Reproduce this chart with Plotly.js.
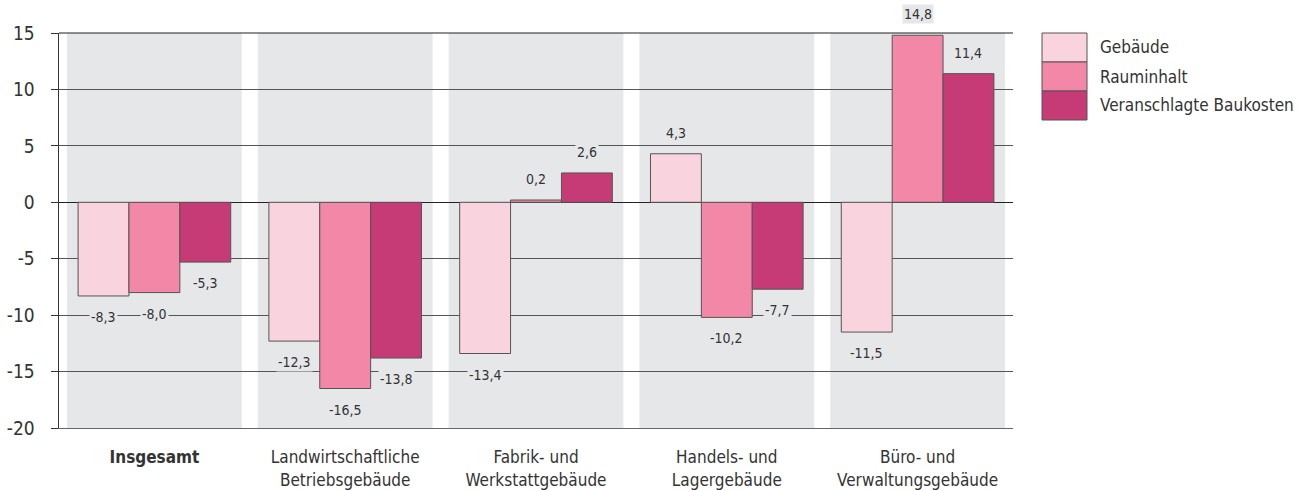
<!DOCTYPE html>
<html>
<head>
<meta charset="utf-8">
<script src="https://cdn.plot.ly/plotly-3.0.1.min.js"></script>
<style>
html,body{margin:0;padding:0;background:#fff;}
#chart{width:1307px;height:491px;}
</style>
</head>
<body>
<div id="chart"></div>
<script>
var categories = ["<b>Insgesamt</b>", "Landwirtschaftliche<br>Betriebsgebäude", "Fabrik- und<br>Werkstattgebäude", "Handels- und<br>Lagergebäude", "Büro- und<br>Verwaltungsgebäude"];
var seriesNames = ["Gebäude", "Rauminhalt", "Veranschlagte Baukosten"];
var gebaeude = [-8.3, -12.3, -13.4, 4.3, -11.5];
var rauminhalt = [-8.0, -16.5, 0.2, -10.2, 14.8];
var baukosten = [-5.3, -13.8, 2.6, -7.7, 11.4];
var yTicks = [-20, -15, -10, -5, 0, 5, 10, 15];

var colors = ["#f9d3de", "#f287a8", "#c63a76"];
var FONT = "'DejaVu Sans Condensed', 'Liberation Sans', sans-serif";
var BAND = "#e6e7e9";
var seriesValues = [gebaeude, rauminhalt, baukosten];
var xIdx = categories.map(function(c, i){ return i; });
var barW = 0.8 / 3;

var traces = seriesValues.map(function(vals, s){
  return {
    type: "bar",
    name: seriesNames[s],
    x: xIdx,
    y: vals,
    marker: {color: colors[s], line: {color: "#555", width: 1}},
    showlegend: false,
    hoverinfo: "y+name"
  };
});

function fmt(v){ return v.toFixed(1).replace(".", ","); }

var annotations = [];
seriesValues.forEach(function(vals, s){
  vals.forEach(function(v, i){
    annotations.push({
      x: i + (s - 1) * barW, y: v, xref: "x", yref: "y",
      text: fmt(v), showarrow: false,
      yanchor: "middle", yshift: v >= 0 ? 21 : -21,
      bgcolor: BAND, borderpad: 1,
      font: {family: FONT, size: 14, color: "#333"}
    });
  });
});

var shapes = [];
categories.forEach(function(c, i){
  shapes.push({type: "rect", xref: "x", yref: "paper", x0: i - 0.458, x1: i + 0.458, y0: 0, y1: 1,
    fillcolor: BAND, line: {width: 0}, layer: "below"});
});
var legX0 = 1042, legX1 = 1087, legY0 = 33, legH = 29;
seriesNames.forEach(function(n, s){
  shapes.push({type: "rect", xref: "paper", yref: "paper",
    x0: (legX0 - 59) / 954, x1: (legX1 - 59) / 954,
    y0: 1 - (legY0 + legH * (s + 1) - 33) / 395, y1: 1 - (legY0 + legH * s - 33) / 395,
    fillcolor: colors[s], line: {color: "#555", width: 1}, layer: "above"});
  annotations.push({xref: "paper", yref: "paper",
    x: (1098 - 59) / 954, y: 1 - (legY0 + legH * s + legH / 2 - 33) / 395,
    xanchor: "left", yanchor: "middle", showarrow: false, text: n,
    font: {family: FONT, size: 17, color: "#333"}});
});

var layout = {
  width: 1307, height: 491,
  margin: {l: 59, r: 294, t: 33, b: 63, pad: 0},
  paper_bgcolor: "#fff", plot_bgcolor: "#fff",
  barmode: "group", bargap: 0.2, bargroupgap: 0,
  showlegend: false,
  font: {family: FONT, color: "#333"},
  xaxis: {
    range: [-0.5, 4.5], tickvals: xIdx, ticktext: categories,
    showgrid: false, zeroline: false, ticks: "",
    showline: true, linecolor: "#666", linewidth: 1, mirror: false,
    tickfont: {family: FONT, size: 17, color: "#333"},
    ticklabelstandoff: 14,
    fixedrange: true
  },
  yaxis: {
    range: [-20, 15], tickvals: yTicks,
    ticktext: yTicks.map(function(t){ return String(t); }),
    showgrid: true, gridcolor: "#555", gridwidth: 1,
    zeroline: true, zerolinecolor: "#222", zerolinewidth: 1.5,
    showline: true, linecolor: "#333", linewidth: 1.5,
    ticks: "outside", ticklen: 7, tickcolor: "#333", tickwidth: 1,
    tickfont: {family: FONT, size: 19, color: "#333"},
    ticklabelstandoff: 12,
    fixedrange: true
  },
  shapes: shapes.concat([{type: "line", xref: "paper", yref: "paper", x0: 0, x1: 1, y0: 1, y1: 1, line: {color: "#222", width: 1.2}}]),
  annotations: annotations
};

Plotly.newPlot("chart", traces, layout, {displayModeBar: false, staticPlot: true});
</script>
</body>
</html>
